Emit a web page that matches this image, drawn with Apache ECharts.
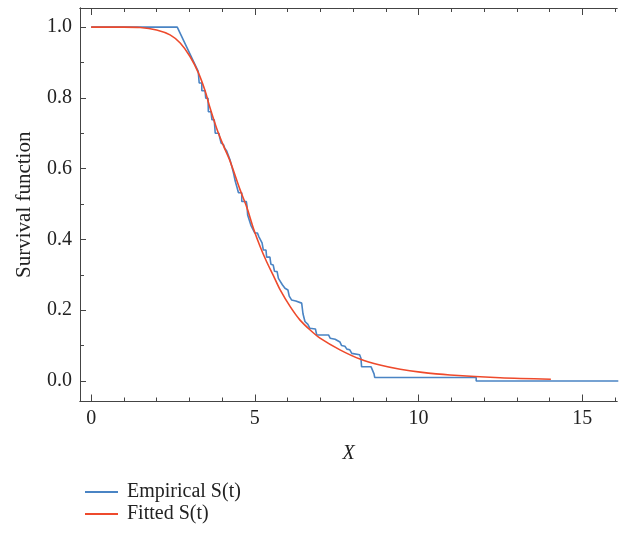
<!DOCTYPE html>
<html>
<head>
<meta charset="utf-8">
<script src="https://cdn.jsdelivr.net/npm/echarts@6/dist/echarts.min.js"></script>
<style>
  html, body { margin: 0; padding: 0; background: #fff; }
  #chart { width: 619px; height: 543px; }
</style>
</head>
<body>
<div id="chart"></div>
<script>
// empirical survival curve, vertices [x, S]
var empirical = [
  [0, 1], [2.63, 1], [3.27, 0.875], [3.30, 0.842], [3.38, 0.842], [3.38, 0.820],
  [3.48, 0.820], [3.50, 0.799], [3.57, 0.799], [3.58, 0.761], [3.66, 0.761],
  [3.69, 0.738], [3.76, 0.738], [3.79, 0.700], [3.90, 0.700], [3.92, 0.691],
  [3.97, 0.672], [4.04, 0.668], [4.08, 0.658], [4.14, 0.650], [4.20, 0.635],
  [4.24, 0.625], [4.30, 0.605], [4.35, 0.587], [4.40, 0.565], [4.45, 0.549],
  [4.48, 0.545], [4.50, 0.532], [4.60, 0.532], [4.60, 0.507], [4.74, 0.507],
  [4.76, 0.495], [4.78, 0.469], [4.84, 0.469], [4.88, 0.440], [4.92, 0.436],
  [5.00, 0.418], [5.08, 0.418], [5.12, 0.408], [5.18, 0.408], [5.22, 0.390],
  [5.26, 0.370], [5.34, 0.370], [5.36, 0.350], [5.46, 0.350], [5.49, 0.330],
  [5.56, 0.328], [5.60, 0.310], [5.68, 0.309], [5.72, 0.290], [5.78, 0.285],
  [5.84, 0.272], [5.92, 0.262], [6.01, 0.257], [6.05, 0.240], [6.12, 0.229],
  [6.25, 0.226], [6.43, 0.220], [6.47, 0.190], [6.53, 0.168], [6.62, 0.160],
  [6.68, 0.149], [6.85, 0.147], [6.89, 0.130], [7.25, 0.130], [7.30, 0.121],
  [7.45, 0.118], [7.60, 0.110], [7.65, 0.100], [7.75, 0.098], [7.81, 0.090],
  [7.90, 0.088], [7.96, 0.078], [8.20, 0.074], [8.24, 0.064], [8.26, 0.040],
  [8.55, 0.040], [8.64, 0.020], [8.66, 0.010], [11.76, 0.010], [11.76, 0.0],
  [16.1, 0.0]
];

// fitted survival curve [x, S]
var fitted = [
  [0, 1], [1.0, 1], [1.5, 0.999], [2.0, 0.992], [2.41, 0.978], [2.72, 0.955],
  [3.02, 0.917], [3.28, 0.870], [3.48, 0.820], [3.63, 0.772], [3.84, 0.712],
  [4.04, 0.665], [4.24, 0.622], [4.55, 0.540], [4.75, 0.492], [4.96, 0.430],
  [5.16, 0.380], [5.36, 0.337], [5.57, 0.297], [5.77, 0.258], [6.08, 0.210],
  [6.38, 0.172], [6.69, 0.144], [6.99, 0.121], [7.60, 0.088], [8.21, 0.062],
  [8.82, 0.045], [9.44, 0.033], [10.05, 0.025], [10.96, 0.017], [12.49, 0.009],
  [14.04, 0.005]
];

var xMajor = [0, 5, 10, 15];
var xMinor = [1, 2, 3, 4, 6, 7, 8, 9, 11, 12, 13, 14, 16];
var yMajor = [0, 0.2, 0.4, 0.6, 0.8, 1.0];
var yMinor = [0.1, 0.3, 0.5, 0.7, 0.9];

var serif = 'Liberation Serif';
var axisColor = '#444';
var xMin = -0.34, xMax = 16.06;
var yMin = -0.058, yMax = 1.054;

function xAx(pos, ticks, len, labels) {
  return {
    type: 'value', position: pos, min: xMin, max: xMax,
    axisLine: { show: true, onZero: false, lineStyle: { color: axisColor, width: 1 } },
    axisTick: { show: true, inside: true, length: len, customValues: ticks,
                lineStyle: { color: axisColor } },
    axisLabel: labels ? { show: true, customValues: ticks, margin: 7,
                fontFamily: serif, fontSize: 20, color: '#222' } : { show: false },
    splitLine: { show: false }
  };
}
function yAx(ticks, len, labels) {
  return {
    type: 'value', position: 'left', min: yMin, max: yMax,
    axisLine: { show: true, onZero: false, lineStyle: { color: axisColor, width: 1 } },
    axisTick: { show: true, inside: true, length: len, customValues: ticks,
                lineStyle: { color: axisColor } },
    axisLabel: labels ? { show: true, customValues: ticks, margin: 8,
                fontFamily: serif, fontSize: 20, color: '#222',
                formatter: function (v) { return v.toFixed(1); } } : { show: false },
    splitLine: { show: false }
  };
}

var xBottom = xAx('bottom', xMajor, 7, true);
xBottom.name = 'X';
xBottom.nameLocation = 'middle';
xBottom.nameGap = 42;
xBottom.nameTextStyle = { fontFamily: serif, fontSize: 20, fontStyle: 'italic', color: '#222' };

var yLeft = yAx(yMajor, 6, true);
yLeft.name = 'Survival function';
yLeft.nameLocation = 'middle';
yLeft.nameGap = 45;
yLeft.nameTextStyle = { fontFamily: serif, fontSize: 21, color: '#222' };

var chart = echarts.init(document.getElementById('chart'));
chart.setOption({
  animation: false,
  grid: { left: 80, top: 8, right: 2, bottom: 141.5, containLabel: false },
  xAxis: [xBottom, xAx('bottom', xMinor, 4, false), xAx('top', xMajor, 7, false), xAx('top', xMinor, 4, false)],
  yAxis: [yLeft, yAx(yMinor, 4, false)],
  legend: {
    orient: 'vertical', left: 80, top: 477, itemWidth: 33, itemHeight: 2, itemGap: 2,
    icon: 'rect',
    textStyle: { fontFamily: serif, fontSize: 20, color: '#222', padding: [0, 0, 0, 4] },
    data: ['Empirical S(t)', 'Fitted S(t)']
  },
  series: [
    {
      name: 'Empirical S(t)', type: 'line', data: empirical, showSymbol: false,
      xAxisIndex: 0, yAxisIndex: 0,
      lineStyle: { color: '#4a84c4', width: 1.6 }, itemStyle: { color: '#4a84c4' }
    },
    {
      name: 'Fitted S(t)', type: 'line', data: fitted, showSymbol: false, smooth: 0.3,
      xAxisIndex: 0, yAxisIndex: 0,
      lineStyle: { color: '#ee4a2c', width: 1.6 }, itemStyle: { color: '#ee4a2c' }
    }
  ]
});
</script>
</body>
</html>
